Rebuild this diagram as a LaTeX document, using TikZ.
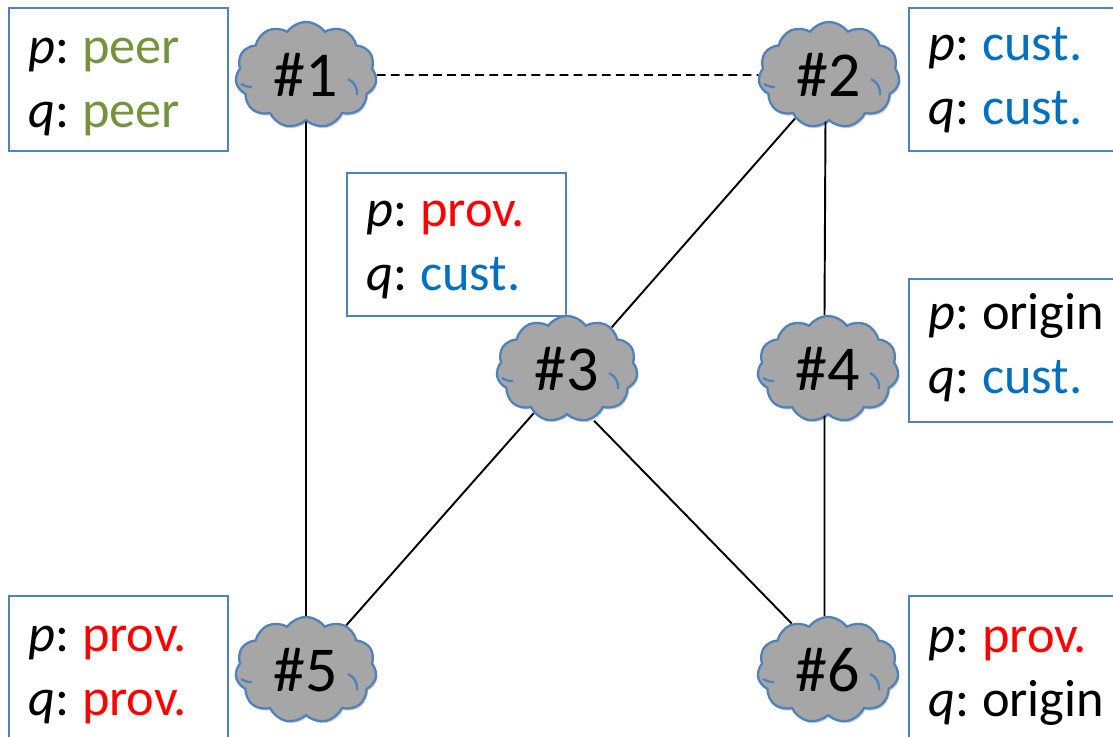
\documentclass[tikz,border=0pt]{standalone}
\usepackage{fontspec}
\setmainfont{Carlito}
\usetikzlibrary{shapes.symbols,shadows}
\definecolor{peercol}{RGB}{118,146,60}
\definecolor{custcol}{RGB}{0,112,192}
\definecolor{provcol}{RGB}{255,0,0}
\definecolor{edgecol}{RGB}{79,129,189}
\definecolor{cloudcol}{RGB}{166,166,166}
\newcommand{\peer}{\textcolor{peercol}{peer}}
\newcommand{\cust}{\textcolor{custcol}{cust.}}
\newcommand{\prov}{\textcolor{provcol}{prov.}}
\newcommand{\pfx}[1]{\textit{#1}:\kern3.7pt}
\begin{document}
\begin{tikzpicture}[x=0.01cm,y=-0.01cm,
    asnode/.style={cloud, cloud puffs=11, cloud puff arc=110, aspect=1.33, draw=edgecol, line width=0.65pt,
        fill=cloudcol, minimum width=1.41cm, minimum height=1.06cm, inner sep=0pt,
        font=\fontsize{18.2}{20}\selectfont, drop shadow={shadow xshift=0.4pt,shadow yshift=-0.6pt,opacity=0.35}},
    cloudarc/.style={draw=edgecol, line width=0.65pt},
    infobox/.style={rectangle, draw=edgecol, line width=0.6pt, fill=white, anchor=north west,
        minimum width=2.19cm, minimum height=1.43cm, text width=1.8cm, text height=#1, inner sep=0pt, align=left,
        font=\fontsize{14.9}{18.2}\selectfont},
    link/.style={line width=0.55pt}]
\useasboundingbox (0,0) rectangle (1113,736);
% routes
\node[asnode] (as1) at (306,75) {\#1};
\node[asnode] (as2) at (829,75) {\#2};
\node[asnode] (as3) at (567,369) {\#3};
\node[asnode] (as4) at (828,369) {\#4};
\node[asnode] (as5) at (306,670) {\#5};
\node[asnode] (as6) at (828,670) {\#6};
\foreach \n in {1,...,6}
    \draw[cloudarc, shift={(as\n.center)}] (42,4) to[bend left=35] (51,20)
        (-65,9) to[bend right=15] (-54,12);
% per-prefix tables
\node[infobox=11.6pt] (tab1) at (7.5,6.5) {\pfx{p} \peer\\\pfx{q} \peer};
\node[infobox=9.9pt] (tab2) at (907.5,6.5) {\pfx{p} \cust\\\pfx{q} \cust};
\node[infobox=10.5pt] (tab3) at (345.5,171.5) {\pfx{p} \prov\\\pfx{q} \cust};
\node[infobox=9pt] (tab4) at (907.5,277.5) {\pfx{p} origin\\\pfx{q} \cust};
\node[infobox=11.9pt] (tab5) at (7.5,594.5) {\pfx{p} \prov\\\pfx{q} \prov};
\node[infobox=12.5pt] (tab6) at (907.5,594.5) {\pfx{p} \prov\\\pfx{q} origin};
% links
\draw[link, dash pattern=on 2.5pt off 1.5pt] (as1.east) -- (as2.west);
\draw[link] (as1.south) -- (as5.north);
\draw[link] (as2.232) -- (as3.43);
\draw[link] ([xshift=-1pt]as2.south) -- ([xshift=-1pt]as4.north);
\draw[link] ([xshift=-1pt]as4.south) -- ([xshift=-1pt]as6.north);
\draw[link] (as3.233) -- (as5.48);
\draw[link, shorten <=0.6pt] (as3.297) -- (as6.128);
\end{tikzpicture}
\end{document}
